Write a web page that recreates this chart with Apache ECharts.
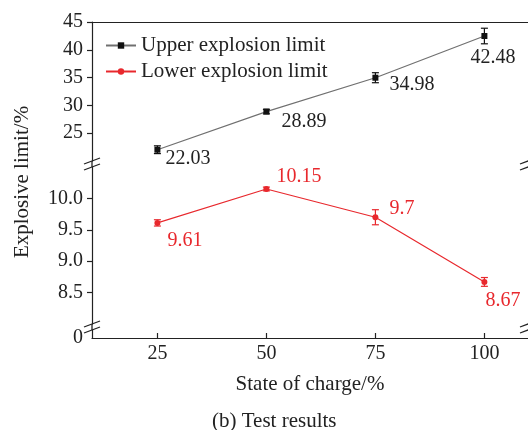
<!DOCTYPE html>
<html><head><meta charset="utf-8">
<script src="https://cdn.jsdelivr.net/npm/echarts@6/dist/echarts.min.js"></script>
<style>html,body{margin:0;padding:0;background:#fff}#c{width:528px;height:430px}</style>
</head><body><div id="c"></div>
<script>
// ---- data ----
const soc = [25, 50, 75, 100];
const upperLimit = [22.03, 28.89, 34.98, 42.48];
const upperErr = [0.7, 0.4, 0.9, 1.4];
const lowerLimit = [9.61, 10.15, 9.7, 8.67];
const lowerErr = [0.05, 0.03, 0.12, 0.07];
const xTicks = [25, 50, 75, 100];
const upperTicks = [25, 30, 35, 40, 45];
const lowerTicks = [8.5, 9.0, 9.5, 10.0];
const zeroTicks = [0];
const seriesNames = ['Upper explosion limit', 'Lower explosion limit'];
const xTitle = 'State of charge/%';
const yTitle = 'Explosive limit/%';
const caption = '(b) Test results';

// ---- style ----
const FONT = 'Liberation Serif';
const RED = '#e8282d';
const INK = '#222';
const upperLabelOffsets = [[8, 9], [15, 10], [14, 7], [-14, 22]];
const lowerLabelOffsets = [[10, 18], [10, -12], [14, -8], [1, 19]];

const chart = echarts.init(document.getElementById('c'), null, {renderer: 'canvas'});

const gridBase = {left: 92, right: -2};
const axisLine = {show: true, lineStyle: {color: INK, width: 1.2}};
function hiddenX(g) { return {type: 'value', gridIndex: g, min: 10, max: 110, show: false}; }

function errSeries(xi, yi, vals, errs, color) {
  return {
    type: 'custom', xAxisIndex: xi, yAxisIndex: yi, silent: true, z: 3,
    data: soc.map((x, i) => [x, vals[i] - errs[i], vals[i] + errs[i]]),
    renderItem(params, api) {
      const lo = api.coord([api.value(0), api.value(1)]);
      const hi = api.coord([api.value(0), api.value(2)]);
      const w = 3.5;
      const st = {stroke: color, lineWidth: 1.2};
      return {type: 'group', children: [
        {type: 'line', shape: {x1: lo[0], y1: lo[1], x2: hi[0], y2: hi[1]}, style: st},
        {type: 'line', shape: {x1: lo[0] - w, y1: lo[1], x2: lo[0] + w, y2: lo[1]}, style: st},
        {type: 'line', shape: {x1: hi[0] - w, y1: hi[1], x2: hi[0] + w, y2: hi[1]}, style: st}
      ]};
    }
  };
}

function lineData(vals, offsets) {
  return soc.map((x, i) => ({value: [x, vals[i]], label: {offset: offsets[i]}}));
}

const option = {
  animation: false,
  backgroundColor: '#fff',
  textStyle: {fontFamily: FONT},
  grid: [
    Object.assign({top: 22, height: 139}, gridBase),
    Object.assign({top: 167, height: 157}, gridBase),
    Object.assign({top: 330, height: 8}, gridBase)
  ],
  xAxis: [
    hiddenX(0),
    {type: 'value', gridIndex: 0, position: 'top', min: 10, max: 110, axisLine: axisLine,
     axisTick: {show: false}, axisLabel: {show: false}, splitLine: {show: false}},
    hiddenX(1),
    {type: 'value', gridIndex: 2, min: 10, max: 110, axisLine: axisLine,
     axisTick: {show: true, inside: true, length: 5, customValues: xTicks, lineStyle: {color: INK, width: 1.2}},
     axisLabel: {customValues: xTicks, fontSize: 20, color: INK, fontFamily: FONT, margin: 6},
     splitLine: {show: false},
     name: xTitle, nameLocation: 'middle', nameGap: 36,
     nameTextStyle: {fontSize: 21, color: INK, fontFamily: FONT}}
  ],
  yAxis: [
    {type: 'value', gridIndex: 0, min: 20, max: 45, axisLine: axisLine,
     axisTick: {show: true, length: 5, customValues: upperTicks, lineStyle: {color: INK, width: 1.2}},
     axisLabel: {customValues: upperTicks, fontSize: 20, color: INK, fontFamily: FONT, margin: 9},
     splitLine: {show: false}},
    {type: 'value', gridIndex: 1, min: 8, max: 10.5, axisLine: axisLine,
     axisTick: {show: true, length: 5, customValues: lowerTicks, lineStyle: {color: INK, width: 1.2}},
     axisLabel: {customValues: lowerTicks, fontSize: 20, color: INK, fontFamily: FONT, margin: 9,
                 formatter: v => Number(v).toFixed(1)},
     splitLine: {show: false}},
    {type: 'value', gridIndex: 2, min: 0, max: 1, axisLine: axisLine,
     axisTick: {show: false},
     axisLabel: {customValues: zeroTicks, fontSize: 20, color: INK, fontFamily: FONT, margin: 9},
     splitLine: {show: false}}
  ],
  legend: {
    orient: 'vertical', left: 100, top: 30, itemWidth: 30, itemHeight: 8, itemGap: 5,
    data: seriesNames,
    textStyle: {fontSize: 21, color: INK, fontFamily: FONT, lineHeight: 20}
  },
  title: {
    text: caption, left: 207, top: 406,
    textStyle: {fontSize: 21, fontWeight: 'normal', color: INK, fontFamily: FONT}
  },
  series: [
    {
      name: seriesNames[0], type: 'line', xAxisIndex: 0, yAxisIndex: 0, z: 4,
      data: lineData(upperLimit, upperLabelOffsets),
      symbol: 'rect', symbolSize: 6,
      itemStyle: {color: '#111'},
      lineStyle: {color: '#707070', width: 1.2},
      label: {show: true, position: 'inside', align: 'left', verticalAlign: 'middle',
              formatter: p => String(p.value[1]), fontSize: 20, color: INK, fontFamily: FONT}
    },
    errSeries(0, 0, upperLimit, upperErr, '#111'),
    {
      name: seriesNames[1], type: 'line', xAxisIndex: 2, yAxisIndex: 1, z: 4,
      data: lineData(lowerLimit, lowerLabelOffsets),
      symbol: 'circle', symbolSize: 6,
      itemStyle: {color: RED},
      lineStyle: {color: RED, width: 1.2},
      label: {show: true, position: 'inside', align: 'left', verticalAlign: 'middle',
              formatter: p => String(p.value[1]), fontSize: 20, color: RED, fontFamily: FONT}
    },
    errSeries(2, 1, lowerLimit, lowerErr, RED)
  ]
};
chart.setOption(option);

// ---- axis-break marks, placed from the axes' own pixel mapping ----
const xL = chart.convertToPixel({xAxisIndex: 3}, 10);
const xR = chart.convertToPixel({xAxisIndex: 3}, 110);
const b1a = chart.convertToPixel({yAxisIndex: 0}, 20);
const b1b = chart.convertToPixel({yAxisIndex: 1}, 10.5);
const b2a = chart.convertToPixel({yAxisIndex: 1}, 8);
const b2b = chart.convertToPixel({yAxisIndex: 2}, 1);
const st = {stroke: INK, lineWidth: 1.3};
const g = [];
function slash(x, y) {
  g.push({type: 'line', shape: {x1: x - 8, y1: y + 3, x2: x + 8, y2: y - 3}, style: st, z: 10});
}
[[b1a, b1b], [b2a, b2b]].forEach(([ya, yb]) => {
  g.push({type: 'line', shape: {x1: xL, y1: ya, x2: xL, y2: yb}, style: st, z: 10});
  slash(xL, ya); slash(xL, yb); slash(xR, ya); slash(xR, yb);
});
g.push({type: 'text', x: 22, y: 182, rotation: Math.PI / 2,
        style: {text: yTitle, fontSize: 21, fontFamily: FONT, fill: INK,
                textAlign: 'center', textVerticalAlign: 'middle'}});
chart.setOption({graphic: g});
</script>
</body></html>
